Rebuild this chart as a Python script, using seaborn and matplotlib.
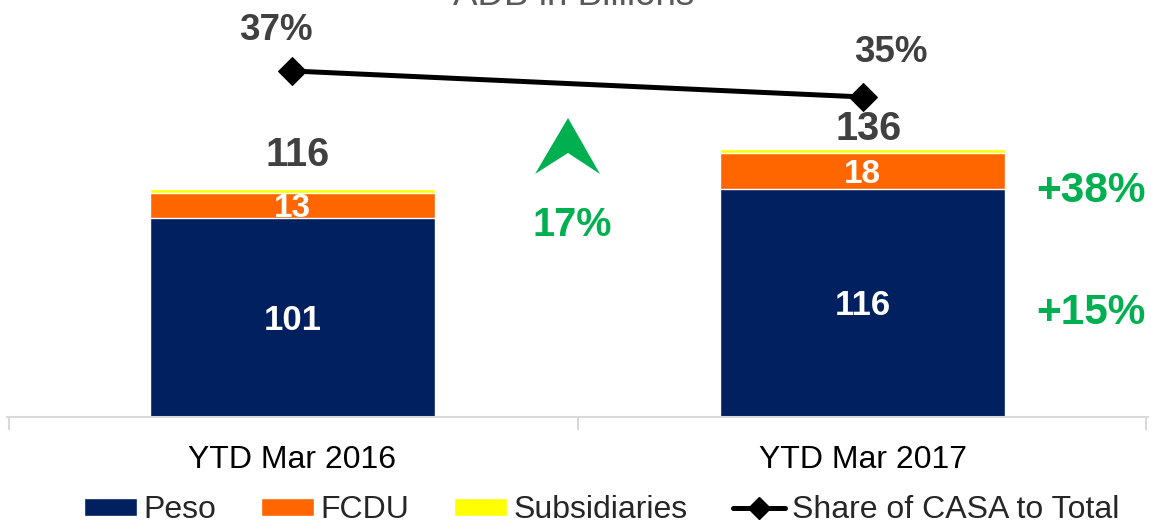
import matplotlib
matplotlib.use("Agg")
import matplotlib.pyplot as plt
import numpy as np
import pandas as pd
import seaborn as sns
from matplotlib.lines import Line2D
from matplotlib.patches import Patch, Polygon

# data
periods = ["YTD Mar 2016", "YTD Mar 2017"]
peso = [101, 116]
fcdu = [13, 18]
subsidiaries = [2, 2]
casa_share = [37, 35]

NAVY = "#002060"
ORANGE = "#FF6600"
YELLOW = "#FFFF00"
GREEN = "#00B050"
DARK = "#404040"

sns.set_style("white")
plt.rcParams["font.family"] = ["Liberation Sans", "DejaVu Sans"]

df = pd.DataFrame({"period": periods, "peso": peso, "fcdu": fcdu, "subs": subsidiaries})
df["peso_fcdu"] = df["peso"] + df["fcdu"]
df["total"] = df["peso_fcdu"] + df["subs"]

W, H = 1151, 526
fig = plt.figure(figsize=(W / 100, H / 100), dpi=100)
ax = fig.add_axes([7 / W, (H - 417) / H, 1141 / W, 417 / H])

# stacked bars drawn as overlapping cumulative totals
sns.barplot(data=df, x="period", y="total", color=YELLOW, width=0.5, saturation=1, ax=ax)
sns.barplot(data=df, x="period", y="peso_fcdu", color=ORANGE, width=0.5, saturation=1, ax=ax)
sns.barplot(data=df, x="period", y="peso", color=NAVY, width=0.5, saturation=1, ax=ax)

ax.set_xlim(-0.5, 1.5)
ax.set_ylim(0, 212)
ax.set_xlabel("")
ax.set_ylabel("")
ax.set_yticks([])
for side in ["left", "right", "top"]:
    ax.spines[side].set_visible(False)
ax.spines["bottom"].set_color("#D9D9D9")
ax.spines["bottom"].set_linewidth(1.5)
ax.set_xticks([-0.497, 0.5, 1.497], minor=True)
ax.tick_params(axis="x", which="minor", bottom=True, length=9, width=1.5,
               color="#D9D9D9", direction="out")
ax.tick_params(axis="x", which="major", length=0, pad=20, labelsize=23, labelcolor="black")


def label(axis, x, y, s, color, size, dx=0):
    # small downward nudge so the digits sit centred like the original
    axis.annotate(s, (x, y), xytext=(dx, -2.2), textcoords="offset points",
                  ha="center", va="center", color=color, fontsize=size, fontweight="bold")


# labels inside / above bars
total_offsets = [19, 12]
for i in range(len(periods)):
    label(ax, i, peso[i] / 2, f"{peso[i]}", "white", 25)
    label(ax, i, peso[i] + fcdu[i] / 2, f"{fcdu[i]}", "white", 24)
    label(ax, i + 0.01, df["total"][i] + total_offsets[i], f"{df['total'][i]}", DARK, 28.5)

# growth figures
peso_growth = (peso[1] / peso[0] - 1) * 100
fcdu_growth = (fcdu[1] / fcdu[0] - 1) * 100
total_growth = (df["total"][1] / df["total"][0] - 1) * 100
label(ax, 1.4, 116.5, f"+{fcdu_growth:.0f}%", GREEN, 30.5)
label(ax, 1.4, 54.5, f"+{peso_growth:.0f}%", GREEN, 30.5)
label(ax, 0.49, 99, f"{total_growth:.0f}%", GREEN, 28.5)

# green up arrow
arrow_px = [(568, 118), (535, 174), (568, 153), (600, 174)]
fig.patches.append(Polygon([(x / W, 1 - y / H) for x, y in arrow_px], closed=True,
                           facecolor=GREEN, edgecolor="none", transform=fig.transFigure))

# CASA share line on secondary axis
ax2 = ax.twinx()
sns.lineplot(x=np.arange(len(periods)), y=casa_share, color="black", linewidth=3.6,
             marker="D", markersize=14, markeredgecolor="black", ax=ax2)
ax2.set_ylim(10.38, 42.46)
ax2.set_yticks([])
ax2.set_ylabel("")
for side in ["left", "right", "top", "bottom"]:
    ax2.spines[side].set_visible(False)

share_offsets = [(-12, 29.5), (20, 32)]
for i, v in enumerate(casa_share):
    ax2.annotate(f"{v}%", (i, v), xytext=share_offsets[i], textcoords="offset points",
                 ha="center", va="center", color=DARK, fontsize=26.5, fontweight="bold")

fig.text(0.498, 1 - 5 / H, "ADB in Billions", ha="center", va="baseline",
         color="#595959", fontsize=26.5)

handles = [
    Patch(facecolor=NAVY, label="Peso"),
    Patch(facecolor=ORANGE, label="FCDU"),
    Patch(facecolor=YELLOW, label="Subsidiaries"),
    Line2D([], [], color="black", linewidth=3.6, marker="D", markersize=11, label="Share of CASA to Total"),
]
fig.legend(handles=handles, loc="center", bbox_to_anchor=(0.523, 0.03), ncol=4, frameon=False,
           fontsize=23, handlelength=1.64, handleheight=0.47, handletextpad=0.22,
           columnspacing=1.4, borderaxespad=0, borderpad=0)

fig.savefig("out.png", dpi=100)
